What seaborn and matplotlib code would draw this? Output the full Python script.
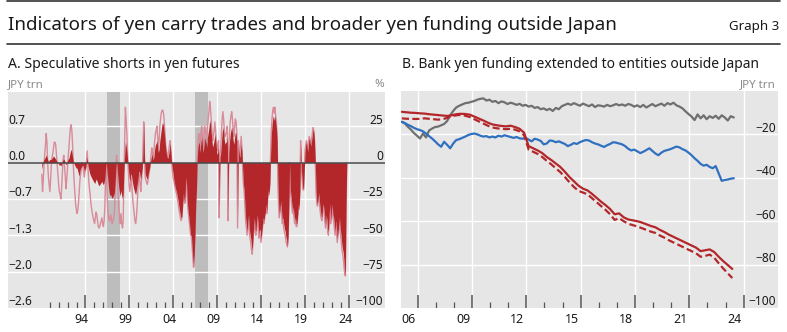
import numpy as np
import pandas as pd
import matplotlib
matplotlib.use("Agg")
import matplotlib.pyplot as plt
import matplotlib.transforms as mtrans
from matplotlib.lines import Line2D
import seaborn as sns

# ---------------- Panel A: speculative positions in yen futures (monthly, Jan 1990 - Sep 2024)
shorts_months = pd.date_range("1990-01-01", "2024-09-01", freq="MS")

# net speculative position, JPY trn (left scale)
shorts_jpy = [
    -0.12, -0.05, 0.02, 0.05, 0.08, 0.10, 0.14, 0.10, 0.05, 0.02, 0.04, 0.06,
    0.05, 0.06, 0.08, 0.10, 0.12, 0.10, 0.08, 0.06, 0.03, 0.02, 0.00, -0.03,
    -0.05, -0.04, -0.06, -0.03, 0.02, 0.05, 0.06, 0.04, 0.00, -0.04, -0.02, 0.03,
    0.06, 0.08, 0.14, 0.20, 0.24, 0.18, 0.10, 0.02, -0.02, -0.05, -0.08, -0.10,
    -0.10, -0.15, -0.20, -0.25, -0.15, -0.10, -0.08, -0.05, -0.05, -0.10, -0.15, -0.12,
    -0.08, 0.02, 0.10, -0.05, -0.12, -0.18, -0.22, -0.25, -0.28, -0.30, -0.33, -0.35,
    -0.38, -0.35, -0.30, -0.32, -0.36, -0.40, -0.42, -0.40, -0.38, -0.36, -0.34, -0.38,
    -0.40, -0.36, -0.28, -0.10, 0.02, -0.18, -0.30, -0.45, -0.55, -0.60, -0.58, -0.62,
    -0.65, -0.62, -0.58, -0.55, -0.35, -0.10, 0.05, -0.15, -0.30, -0.45, -0.55, -0.60,
    -0.50, -0.60, -0.65, -0.55, -0.15, 0.15, 0.38, 0.30, 0.20, 0.05, -0.10, -0.25,
    -0.35, -0.25, -0.20, -0.30, -0.38, -0.45, -0.50, -0.55, -0.58, -0.50, -0.40, -0.30,
    -0.20, -0.15, -0.25, -0.30, -0.20, -0.10, 0.20, 0.74, 0.10, -0.20, -0.25, -0.28,
    -0.30, -0.22, -0.15, -0.10, 0.00, 0.08, 0.15, 0.10, 0.05, 0.12, 0.25, 0.32,
    0.35, 0.40, 0.30, 0.18, 0.25, 0.40, 0.50, 0.60, 0.70, 0.72, 0.66, 0.55,
    0.40, 0.25, 0.15, 0.10, 0.08, 0.15, 0.25, 0.35, 0.18, 0.00, -0.10, -0.20,
    -0.30, -0.38, -0.45, -0.50, -0.55, -0.62, -0.70, -0.80, -0.88, -0.95, -1.00, -0.98,
    -0.80, -0.55, -0.65, -0.72, -0.40, -0.26, -0.58, -0.80, -0.92, -1.05, -1.18, -1.30,
    -1.32, -1.53, -1.71, -1.89, -1.63, -1.26, -0.74, -0.47, 0.09, 0.28, 0.37, 0.33,
    0.18, 0.37, 0.46, 0.33, 0.18, 0.28, 0.46, 0.40, 0.37, 0.28, 0.46, 0.55,
    0.64, 0.77, 0.70, 0.55, 0.40, 0.28, 0.33, 0.40, 0.52, 0.40, 0.28, 0.15,
    0.18, 0.28, -0.85, 0.09, 0.18, 0.37, 0.55, 0.64, 0.55, 0.40, 0.33, 0.37,
    0.37, 0.46, -0.90, 0.18, 0.37, 0.52, 0.59, 0.64, 0.55, 0.40, 0.33, 0.46,
    0.55, 0.52, 0.37, -1.00, 0.28, 0.18, 0.09, 0.22, 0.33, 0.18, -0.13, -0.39,
    -0.50, -0.75, -1.00, -1.12, -1.25, -1.05, -0.95, -1.20, -1.30, -1.38, -1.50, -1.58,
    -1.38, -1.12, -1.00, -1.20, -1.25, -1.05, -0.95, -1.12, -1.30, -1.20, -1.25, -1.38,
    -1.25, -1.12, -1.00, -1.05, -0.95, -0.88, -0.75, -0.88, -0.62, -0.50, -0.55, -0.38,
    0.12, 0.50, 0.68, 0.80, 0.85, 0.76, 0.85, 0.72, 0.62, 0.40, -0.38, -0.75,
    -0.95, -0.80, -0.70, -0.88, -1.05, -1.00, -1.12, -1.20, -1.25, -1.35, -1.40, -1.52,
    -1.30, -0.75, 0.00, -0.50, -0.62, -0.75, -0.88, -0.80, -0.95, -1.05, -1.00, -1.10,
    -1.10, -0.95, -0.75, -0.80, -0.50, 0.35, -0.12, -0.30, -0.45, -0.48, -0.12, 0.20,
    0.30, 0.38, 0.25, 0.20, 0.38, 0.45, 0.35, 0.30, 0.40, 0.50, 0.60, 0.55,
    0.38, 0.00, -0.50, -0.70, -0.75, -0.62, -0.55, -0.75, -0.88, -0.95, -1.00, -0.80,
    -0.75, -0.88, -1.00, -1.12, -0.95, -1.05, -1.20, -1.25, -0.90, -0.75, -1.05, -0.88,
    -0.75, -0.95, -1.00, -1.12, -1.25, -1.05, -1.20, -1.38, -1.25, -1.12, -1.00, -1.20,
    -1.30, -1.45, -1.55, -1.62, -1.75, -1.92, -2.05, -0.75, 0.00,
]

# net speculative position, % of open interest (right scale)
shorts_pct = [
    -8, -20, -12, -2, 6, 12, 20, 14, 0, -10, -15, -20,
    -12, -2, 4, 6, 10, 14, 14, 12, 5, -3, -10, -15,
    -20, -22, -25, -18, -8, 2, 5, -2, -10, -18, -12, -4,
    4, 10, 18, 24, 26, 22, 12, -2, -12, -20, -28, -32,
    -35, -33, -28, -20, -12, -8, -4, 0, -3, -6, -10, -6,
    -4, 2, 8, -4, -12, -18, -22, -28, -32, -35, -38, -40,
    -42, -38, -34, -36, -40, -44, -45, -44, -42, -40, -38, -42,
    -44, -40, -30, -10, 0, -20, -32, -38, -40, -38, -36, -40,
    -42, -40, -38, -35, -20, -5, 5, -10, -20, -30, -38, -42,
    -35, -42, -45, -40, -10, 15, 38, 30, 20, 5, -5, -15,
    -20, -15, -10, -18, -25, -30, -35, -40, -42, -38, -30, -20,
    -10, -8, -15, -20, -12, -5, 10, 28, 5, -10, -12, -14,
    -15, -12, -8, -5, 0, 5, 10, 6, 3, 8, 15, 20,
    22, 25, 18, 10, 15, 25, 30, 34, 36, 36, 34, 28,
    20, 12, 8, 5, 4, 8, 12, 15, 8, 0, -5, -10,
    -12, -15, -18, -20, -22, -25, -28, -32, -35, -38, -40, -38,
    -30, -20, -25, -28, -15, -10, -22, -30, -35, -40, -45, -50,
    -50, -58, -65, -72, -62, -48, -28, -18, 5, 15, 20, 18,
    10, 20, 25, 18, 10, 15, 25, 22, 20, 15, 25, 30,
    35, 42, 38, 30, 22, 15, 18, 22, 28, 22, 15, 8,
    10, 15, -38, 5, 10, 20, 30, 35, 30, 22, 18, 20,
    20, 25, -40, 10, 20, 28, 32, 35, 30, 22, 18, 25,
    30, 28, 20, -45, 15, 10, 5, 12, 18, 10, -5, -15,
    -20, -30, -40, -45, -50, -42, -38, -48, -52, -55, -60, -63,
    -55, -45, -40, -48, -50, -42, -38, -45, -52, -48, -50, -55,
    -50, -45, -40, -42, -38, -35, -30, -35, -25, -20, -22, -15,
    5, 22, 30, 36, 38, 34, 38, 32, 28, 18, -15, -30,
    -38, -32, -28, -35, -42, -40, -45, -48, -50, -54, -56, -58,
    -52, -30, 0, -20, -25, -30, -35, -32, -38, -42, -40, -44,
    -44, -38, -30, -32, -20, 15, -5, -12, -18, -19, -5, 8,
    12, 15, 10, 8, 15, 18, 14, 12, 16, 20, 24, 22,
    15, 0, -20, -28, -30, -25, -22, -30, -35, -38, -40, -32,
    -30, -35, -40, -45, -38, -42, -48, -50, -36, -30, -42, -35,
    -30, -38, -40, -45, -50, -42, -48, -55, -50, -45, -40, -48,
    -52, -58, -62, -65, -70, -76, -78, -30, 0,
]

# shaded stress periods (decimal years)
stress_start = [1997.5, 2007.5]
stress_end = [1998.95, 2008.95]

# ---------------- Panel B: bank yen funding to entities outside Japan, JPY trn
fund_dates_bm = pd.date_range("2006-02-01", periods=111, freq="2MS")
funding_grey = [
    -14.2, -15.0, -16.5, -17.8, -19.4, -20.6,
    -21.9, -19.6, -21.4, -18.2, -17.3, -16.6,
    -16.4, -15.8, -15.2, -13.8, -11.2, -9.2,
    -7.6, -6.8, -6.2, -5.6, -5.4, -5.0,
    -4.6, -4.0, -3.6, -3.4, -4.4, -4.0,
    -5.0, -4.6, -5.6, -4.8, -5.2, -6.0,
    -5.4, -5.8, -6.4, -5.9, -6.8, -6.4,
    -7.2, -6.8, -7.8, -7.4, -8.4, -8.0,
    -8.8, -8.2, -9.2, -7.8, -8.4, -7.0,
    -6.4, -5.8, -6.4, -5.6, -6.2, -6.8,
    -5.8, -6.4, -7.0, -6.2, -7.4, -6.6,
    -6.8, -7.2, -6.4, -7.0, -6.6, -6.0,
    -6.6, -6.2, -6.8, -6.0, -6.4, -7.2,
    -6.6, -7.4, -6.4, -7.6, -6.8, -6.0,
    -7.0, -6.4, -5.8, -6.8, -5.6, -6.2,
    -5.4, -6.6, -7.2, -8.0, -9.4, -10.6,
    -11.8, -13.4, -10.8, -12.6, -11.2, -13.0,
    -11.6, -12.4, -11.4, -12.8, -11.2, -12.2,
    -13.6, -11.6, -12.2,
]
funding_blue = [
    -14.2, -14.8, -15.6, -16.2, -17.0, -17.6,
    -18.0, -18.6, -19.6, -20.8, -21.9, -23.2,
    -24.6, -25.7, -23.4, -24.8, -26.4, -24.2,
    -22.6, -22.2, -21.6, -21.0, -20.3, -19.8,
    -19.6, -20.0, -20.6, -21.0, -20.8, -21.4,
    -21.0, -21.4, -20.6, -21.0, -20.4, -20.8,
    -21.2, -21.6, -21.2, -21.8, -22.0, -21.6,
    -22.4, -23.2, -22.0, -22.4, -23.0, -24.6,
    -24.2, -22.8, -23.0, -23.6, -23.2, -23.8,
    -24.4, -25.4, -24.8, -24.0, -24.4, -23.6,
    -23.0, -22.6, -22.8, -23.6, -24.2, -24.6,
    -25.2, -25.8, -25.0, -24.4, -23.6, -23.8,
    -24.2, -24.6, -25.4, -26.6, -27.4, -27.0,
    -27.8, -28.6, -28.0, -27.2, -26.4, -27.6,
    -28.8, -29.6, -28.4, -27.6, -27.2, -26.8,
    -26.2, -25.6, -26.0, -26.8, -27.4, -28.4,
    -29.6, -31.0, -32.2, -33.6, -34.4, -34.0,
    -35.0, -35.6, -34.6, -38.0, -41.4, -41.0,
    -40.8, -40.4, -40.2,
]

fund_dates_q = pd.date_range("2006-02-01", periods=74, freq="3MS")
funding_red = [
    -9.6, -9.8, -10.0, -10.1, -10.3, -10.4, -10.7, -10.9,
    -11.1, -11.3, -11.5, -11.2, -10.7, -10.5, -10.6, -10.9,
    -11.8, -12.7, -13.6, -14.6, -15.4, -15.8, -16.1, -16.3,
    -16.0, -16.6, -17.4, -19.2, -25.4, -26.4, -27.4, -28.6,
    -30.4, -31.8, -33.4, -35.0, -37.2, -39.6, -41.6, -43.6,
    -45.0, -45.8, -47.4, -49.2, -51.0, -52.6, -54.4, -56.8,
    -56.4, -58.2, -59.2, -59.6, -60.0, -60.6, -61.4, -62.2,
    -62.8, -64.0, -65.0, -66.2, -67.2, -68.2, -69.2, -70.2,
    -71.2, -72.2, -73.8, -73.4, -73.0, -74.2, -76.4, -78.4,
    -80.2, -82.0,
]
funding_red_dashed = [
    -12.6, -12.8, -12.8, -12.9, -12.8, -12.6, -12.8, -13.0,
    -13.2, -13.0, -12.4, -11.6, -11.2, -11.0, -11.4, -12.0,
    -13.0, -14.0, -15.0, -16.0, -16.8, -17.2, -17.4, -17.6,
    -17.4, -17.8, -18.6, -20.4, -27.0, -28.0, -29.0, -30.4,
    -32.2, -33.8, -35.6, -37.4, -39.6, -42.0, -44.2, -46.0,
    -46.8, -47.6, -49.4, -51.2, -53.0, -54.8, -56.8, -59.4,
    -58.6, -60.0, -61.2, -61.8, -62.4, -63.2, -64.0, -64.8,
    -65.4, -66.6, -67.6, -68.8, -69.8, -70.8, -71.8, -72.8,
    -73.8, -74.8, -76.4, -76.0, -75.4, -76.8, -79.4, -81.8,
    -84.0, -86.2,
]

# axis tick values
pct_ticks = [25, 0, -25, -50, -75, -100]
jpy_per_pct = 2.632 / 100          # left scale is the right scale times this factor
funding_ticks = [-20, -40, -60, -80, -100]


def decimal_year(idx):
    return idx.year + (idx.month - 0.5) / 12.0


# ---------------- styling
sns.set_theme(style="white")
plt.rcParams["font.family"] = ["Noto Sans", "DejaVu Sans"]

W, H = 787, 332
fig = plt.figure(figsize=(W / 100, H / 100), dpi=100)
BG = "#e6e6e6"
GRID = "white"
TXT = "#1a1a1a"
MUTED = "#8a8a8a"
RED = "#b3272b"
PINK = "#d98b99"
BLUE = "#3070c0"
GREY_LINE = "#6f6f6f"
TICKC = "#555555"
FS_TICK = 8.6


def px_rect(x0, y0, x1, y1):
    return [x0 / W, 1 - y1 / H, (x1 - x0) / W, (y1 - y0) / H]


def fig_text(x, y, s, **kw):
    fig.text(x / W, 1 - y / H, s, **kw)


def rule(y):
    fig.add_artist(Line2D([7 / W, 780 / W], [1 - y / H] * 2, color="#333333", lw=1.2))


# header
rule(1)
rule(44.3)
fig_text(8, 29.5, "Indicators of yen carry trades and broader yen funding outside Japan",
         fontsize=13.5, color=TXT, va="baseline")
fig_text(779, 30, "Graph 3", fontsize=9.6, color=TXT, va="baseline", ha="right")


def style_box(ax):
    ax.set_facecolor(BG)
    for s in ax.spines.values():
        s.set_visible(False)
    ax.set_xticks([])
    ax.set_yticks([])


def minus(s):
    return s.replace("-", "\u2212")


def bottom_ticks(ax, years, majors, box_h):
    tr = ax.get_xaxis_transform()
    minor = [y for y in years if y not in majors]
    ax.vlines(minor, 0, 6 / box_h, transform=tr, color=TICKC, lw=0.9, zorder=6)
    ax.vlines(majors, 0, 13 / box_h, transform=tr, color=TICKC, lw=1.1, zorder=6)


# ---------------- Panel A
A_X0, A_Y0, A_X1, A_Y1 = 8, 92, 385, 308
axA = fig.add_axes(px_rect(A_X0, A_Y0, A_X1, A_Y1))
style_box(axA)
xa = (1986.2, 2029.05)
ya = (-100, 48.5)
axA.set_xlim(*xa)
axA.set_ylim(*ya)

fig_text(8, 67.5, "A. Speculative shorts in yen futures", fontsize=10.1, color=TXT, va="baseline")
fig_text(8, 87, "JPY trn", fontsize=8.3, color=MUTED, va="baseline")
fig_text(384, 87, "%", fontsize=8.3, color=MUTED, va="baseline", ha="right")

for s0, s1 in zip(stress_start, stress_end):
    axA.axvspan(s0, s1, color="#bdbdbd", lw=0, zorder=1)

majA = list(range(1995, 2026, 5))
for x in majA:
    axA.axvline(x, color=GRID, lw=1.0, zorder=2)
for v in pct_ticks[:-1]:
    if v != 0:
        axA.axhline(v, color=GRID, lw=1.0, zorder=2)

dfA = pd.DataFrame({"t": decimal_year(shorts_months), "jpy": shorts_jpy, "pct": shorts_pct})
sns.lineplot(data=dfA, x="t", y="pct", ax=axA, color=PINK, lw=1.0, estimator=None, zorder=3)
axA.set_xlabel("")
axA.set_ylabel("")

axJ = axA.twinx()
style_box(axJ)
axJ.patch.set_visible(False)
axJ.set_ylim(ya[0] * jpy_per_pct, ya[1] * jpy_per_pct)
axJ.fill_between(dfA["t"], 0, dfA["jpy"], color=RED, lw=0, zorder=3)
axJ.axhline(0, color="#4a4a4a", lw=1.1, zorder=5)
axJ.set_xlim(*xa)
bottom_ticks(axJ, list(range(1991, 2026)), majA, A_Y1 - A_Y0)

trL = mtrans.blended_transform_factory(axJ.transAxes, axJ.transData)
for v in pct_ticks:
    j = v * jpy_per_pct
    axJ.annotate(minus(f"{j:.1f}"), (0.002, j), xycoords=trL, xytext=(0, 1.9),
                 textcoords="offset points", fontsize=FS_TICK, color=TXT,
                 ha="left", va="baseline", zorder=7)
trR = mtrans.blended_transform_factory(axA.transAxes, axA.transData)
for v in pct_ticks:
    axA.annotate(minus(f"{v:d}"), (0.995, v), xycoords=trR, xytext=(0, 1.9),
                 textcoords="offset points", fontsize=FS_TICK, color=TXT,
                 ha="right", va="baseline", zorder=7)
for y in range(1994, 2025, 5):
    axJ.text(y + 0.5, -11.3 / (A_Y1 - A_Y0), f"{y % 100:02d}", transform=axJ.get_xaxis_transform(),
             fontsize=FS_TICK + 0.3, color=TXT, ha="center", va="center")

# ---------------- Panel B
B_X0, B_Y0, B_X1, B_Y1 = 401, 91, 778, 308
axB = fig.add_axes(px_rect(B_X0, B_Y0, B_X1, B_Y1))
style_box(axB)
xb = (2006.075, 2026.9)
axB.set_xlim(*xb)
axB.set_ylim(-100, 0)

fig_text(402, 67.5, "B. Bank yen funding extended to entities outside Japan", fontsize=10.0,
         color=TXT, va="baseline")
fig_text(776, 87, "JPY trn", fontsize=8.3, color=MUTED, va="baseline", ha="right")

majB = list(range(2007, 2026, 3))
for x in majB:
    axB.axvline(x, color=GRID, lw=1.0, zorder=1)
for v in funding_ticks[:-1]:
    axB.axhline(v, color=GRID, lw=1.0, zorder=1)

dfB = pd.DataFrame({"t": decimal_year(fund_dates_bm), "grey": funding_grey, "blue": funding_blue})
dfQ = pd.DataFrame({"t": decimal_year(fund_dates_q), "red": funding_red, "red_d": funding_red_dashed})
sns.lineplot(data=dfB, x="t", y="grey", ax=axB, color=GREY_LINE, lw=1.6, estimator=None, zorder=3)
sns.lineplot(data=dfB, x="t", y="blue", ax=axB, color=BLUE, lw=1.6, estimator=None, zorder=3)
sns.lineplot(data=dfQ, x="t", y="red_d", ax=axB, color=RED, lw=1.6, estimator=None, zorder=3)
axB.lines[-1].set_dashes([3.2, 1.5])
sns.lineplot(data=dfQ, x="t", y="red", ax=axB, color=RED, lw=1.6, estimator=None, zorder=4)
axB.set_xlabel("")
axB.set_ylabel("")
axB.set_xlim(*xb)
axB.set_ylim(-100, 0)
bottom_ticks(axB, list(range(2007, 2026)), majB, B_Y1 - B_Y0)

trB = mtrans.blended_transform_factory(axB.transAxes, axB.transData)
for v in funding_ticks:
    axB.annotate(minus(f"{v:d}"), (0.995, v), xycoords=trB, xytext=(0, 1.9),
                 textcoords="offset points", fontsize=FS_TICK, color=TXT,
                 ha="right", va="baseline", zorder=7)
for y in range(2006, 2025, 3):
    axB.text(y + 0.5, -11.3 / (B_Y1 - B_Y0), f"{y % 100:02d}", transform=axB.get_xaxis_transform(),
             fontsize=FS_TICK + 0.3, color=TXT, ha="center", va="center")

fig.savefig("out.png", dpi=100, facecolor="white")
